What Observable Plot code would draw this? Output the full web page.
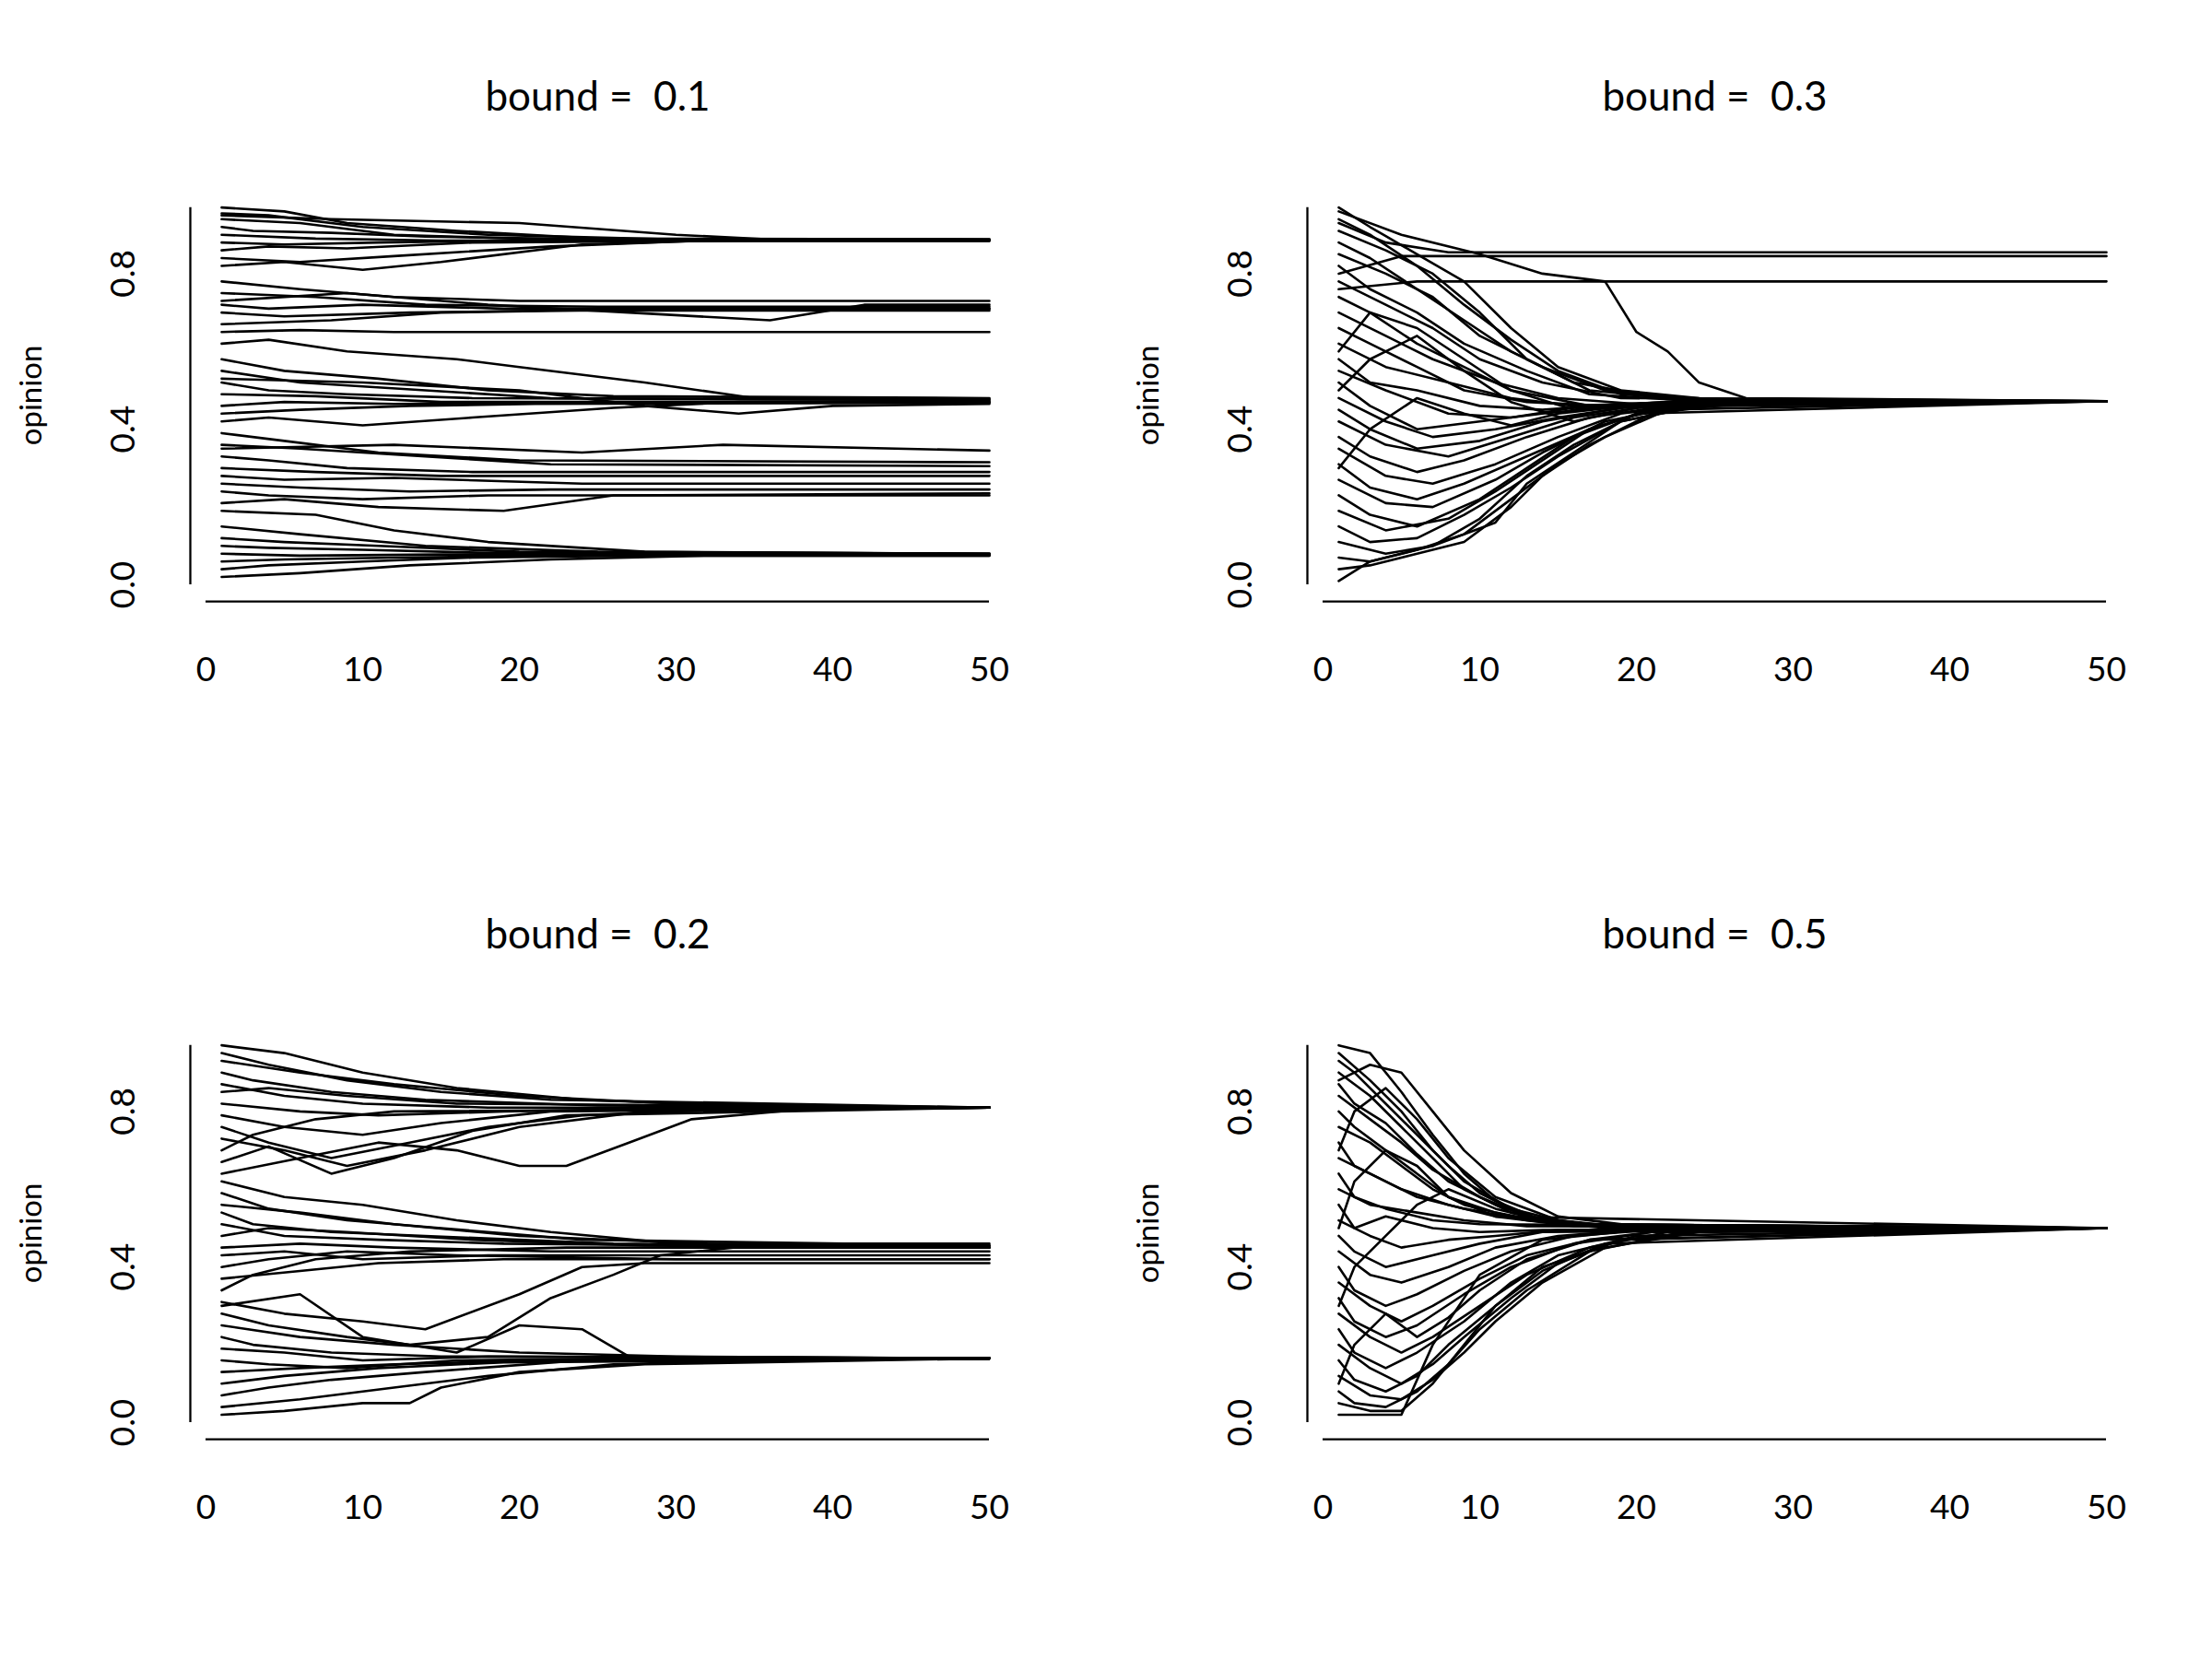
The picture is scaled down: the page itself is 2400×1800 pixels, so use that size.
<!DOCTYPE html>
<html><head><meta charset="utf-8">
<script src="https://cdn.jsdelivr.net/npm/d3@7"></script>
<script src="https://cdn.jsdelivr.net/npm/@observablehq/plot@0.6"></script>
<style>
body{margin:0;background:#fff}
#g{display:grid;grid-template-columns:1212px 1188px;grid-template-rows:909px 891px;width:2400px;height:1800px}
svg text{white-space:pre}
</style></head><body><div id="g"></div>
<script>
const titles = ["bound =  0.1","bound =  0.3","bound =  0.2","bound =  0.5"];
const xTicks = [0,10,20,30,40,50];
const yTicks = [0,0.4,0.8];
// each trajectory: [t, opinion, t, opinion, ...]
const bound01 = [
[1,.97,5,.96,9,.93,16,.91,25,.89,50,.888],[1,.955,4,.95,10,.92,18,.90,30,.888,50,.888],
[1,.94,6,.93,12,.90,20,.89,50,.887],[1,.92,3,.91,8,.905,14,.895,28,.887,50,.887],
[1,.90,7,.89,15,.885,50,.885],[1,.88,5,.875,11,.88,19,.885,50,.885],
[1,.86,4,.87,9,.865,17,.88,35,.885,50,.885],[1,.84,6,.83,12,.845,22,.87,31,.884,50,.884],
[1,.82,5,.83,10,.81,15,.83,24,.875,33,.886,50,.886],[1,.95,8,.94,20,.93,30,.90,36,.888,50,.888],
[1,.78,6,.76,12,.74,20,.73,50,.73],[1,.75,7,.74,14,.72,25,.715,50,.715],
[1,.72,4,.71,10,.72,19,.71,50,.71],[1,.70,5,.69,13,.70,22,.705,50,.705],
[1,.67,8,.68,15,.70,30,.71,50,.71],[1,.65,6,.655,12,.65,50,.65],
[1,.73,9,.75,18,.72,27,.70,36,.68,42,.72,50,.72],
[1,.62,4,.63,9,.60,16,.58,20,.56,28,.52,35,.48,50,.478],[1,.58,5,.55,11,.53,18,.50,26,.485,50,.48],
[1,.55,6,.52,14,.50,22,.48,50,.475],[1,.52,4,.50,9,.49,17,.48,50,.475],
[1,.49,7,.485,15,.47,50,.47],[1,.46,5,.47,12,.465,25,.47,50,.47],
[1,.44,6,.45,13,.46,21,.465,50,.468],[1,.42,4,.43,10,.41,17,.43,26,.455,34,.47,50,.47],
[1,.53,10,.52,20,.50,28,.46,34,.44,40,.46,50,.465],
[1,.39,5,.37,11,.34,20,.32,50,.315],[1,.36,6,.35,14,.33,22,.31,50,.305],
[1,.33,4,.32,9,.30,17,.29,30,.29,50,.29],[1,.30,7,.29,15,.28,50,.28],
[1,.28,5,.27,12,.275,24,.26,50,.26],[1,.26,6,.25,13,.24,22,.245,50,.245],
[1,.24,4,.23,10,.22,18,.23,50,.23],[1,.21,5,.22,11,.20,19,.19,26,.23,50,.235],
[1,.35,12,.36,24,.34,33,.36,50,.345],
[1,.19,7,.18,12,.14,18,.11,28,.085,50,.08],[1,.15,6,.13,14,.10,25,.085,50,.08],
[1,.12,5,.11,11,.10,20,.085,50,.08],[1,.10,4,.095,10,.09,18,.082,50,.078],
[1,.08,6,.075,15,.078,50,.078],[1,.06,5,.065,12,.07,24,.075,50,.075],
[1,.04,4,.05,10,.06,17,.07,30,.076,50,.076],[1,.02,6,.03,13,.05,22,.065,32,.075,50,.075]
];
const bound03 = [
[1,.93,4,.88,8,.855,50,.855],[1,.80,5,.845,9,.845,50,.845],[1,.76,6,.78,12,.78,50,.78],
[1,.96,5,.90,10,.85,14,.80,18,.78,20,.65,22,.60,24,.52,27,.48,50,.472],
[1,.97,3,.92,6,.85,9,.78,12,.66,15,.56,19,.50,24,.48,30,.472,50,.472],
[1,.94,3,.90,6,.82,9,.72,12,.63,15,.55,19,.49,24,.475,50,.472],
[1,.91,4,.86,7,.80,10,.70,13,.58,17,.50,22,.48,50,.472],
[1,.88,3,.84,6,.76,9,.68,12,.60,16,.52,21,.485,28,.472,50,.472],
[1,.85,4,.80,7,.74,10,.64,14,.56,18,.50,24,.476,50,.472],
[1,.82,3,.76,6,.70,9,.62,13,.55,17,.49,23,.474,50,.472],
[1,.78,4,.72,7,.66,10,.58,14,.52,19,.48,50,.472],
[1,.74,3,.70,6,.62,9,.56,12,.50,17,.46,22,.47,50,.472],
[1,.70,4,.64,7,.58,11,.52,15,.48,20,.465,26,.472,50,.472],
[1,.66,3,.62,6,.56,9,.50,13,.47,18,.46,23,.47,50,.472],
[1,.62,4,.56,8,.52,12,.48,16,.46,21,.468,50,.472],
[1,.58,3,.52,6,.50,10,.46,14,.45,19,.465,50,.472],
[1,.55,4,.50,8,.44,12,.43,16,.455,22,.47,50,.472],
[1,.52,3,.46,6,.40,10,.42,14,.44,19,.46,25,.47,50,.472],
[1,.48,4,.42,7,.38,11,.40,15,.43,20,.46,26,.47,50,.472],
[1,.45,3,.40,6,.35,10,.37,14,.42,19,.455,25,.468,50,.472],
[1,.42,4,.36,8,.33,12,.38,16,.43,21,.46,50,.472],
[1,.38,3,.33,6,.29,9,.32,13,.38,17,.43,22,.46,28,.47,50,.472],
[1,.35,4,.28,7,.26,11,.31,15,.38,19,.44,24,.465,50,.472],
[1,.31,3,.25,6,.22,9,.26,13,.33,17,.40,21,.45,27,.47,50,.472],
[1,.27,4,.21,7,.20,11,.27,14,.34,18,.42,23,.46,50,.472],
[1,.23,3,.18,6,.15,10,.22,13,.30,16,.38,20,.44,25,.465,50,.472],
[1,.19,4,.14,8,.17,11,.24,14,.32,17,.40,21,.45,50,.472],
[1,.15,3,.11,6,.12,9,.18,12,.25,15,.33,19,.42,24,.46,50,.472],
[1,.11,4,.08,7,.10,10,.17,13,.28,16,.36,20,.44,50,.472],
[1,.07,3,.06,6,.09,9,.13,12,.22,15,.31,18,.38,22,.45,28,.47,50,.472],
[1,.04,3,.05,6,.08,9,.11,12,.20,14,.28,17,.36,21,.44,26,.465,50,.472],
[1,.01,3,.06,7,.10,11,.16,13,.26,16,.34,19,.42,24,.46,50,.472],
[1,.60,3,.70,6,.66,9,.58,12,.50,16,.45,22,.468,50,.472],
[1,.30,3,.40,6,.48,9,.44,12,.41,15,.44,20,.462,50,.472],
[1,.50,3,.58,6,.64,9,.55,12,.47,16,.42,20,.455,26,.47,50,.472]
];
const bound02 = [
[1,.97,5,.95,10,.90,16,.86,24,.83,34,.815,50,.81],[1,.95,4,.92,9,.88,15,.85,22,.83,50,.81],
[1,.93,6,.90,12,.87,20,.84,30,.82,50,.81],[1,.90,3,.88,8,.85,14,.83,25,.815,50,.81],
[1,.87,5,.84,10,.82,18,.81,50,.81],[1,.85,4,.86,9,.84,16,.82,50,.81],
[1,.82,6,.80,11,.79,19,.80,30,.808,50,.81],[1,.79,5,.76,10,.74,15,.77,22,.80,50,.81],
[1,.76,4,.72,8,.68,13,.72,18,.76,24,.79,33,.805,50,.81],[1,.73,5,.70,9,.66,14,.70,20,.76,28,.80,50,.81],
[1,.70,3,.74,7,.78,12,.80,50,.81],[1,.67,4,.71,8,.64,12,.68,17,.75,23,.79,50,.81],
[1,.64,6,.68,11,.72,16,.70,20,.66,23,.66,27,.72,31,.78,38,.805,50,.81],
[1,.62,5,.58,10,.56,16,.52,22,.49,30,.46,50,.455],[1,.59,4,.55,9,.52,15,.50,24,.47,50,.455],
[1,.56,6,.54,12,.51,20,.48,32,.46,50,.455],[1,.54,3,.51,8,.49,14,.48,26,.46,50,.45],
[1,.51,5,.48,11,.47,19,.46,50,.45],[1,.48,4,.50,9,.49,17,.47,28,.455,50,.45],
[1,.45,6,.46,12,.45,22,.44,50,.44],[1,.43,5,.44,10,.42,18,.43,50,.43],
[1,.40,4,.42,9,.44,16,.43,30,.42,50,.42],[1,.37,6,.39,11,.41,19,.42,50,.42],
[1,.34,3,.38,7,.42,13,.44,23,.45,50,.45],
[1,.31,5,.28,10,.26,14,.24,20,.33,24,.40,28,.41,50,.41],
[1,.28,4,.25,9,.22,13,.20,18,.22,22,.32,26,.38,29,.43,36,.46,50,.46],
[1,.25,6,.22,12,.20,20,.18,30,.17,50,.165],[1,.22,3,.20,8,.18,15,.17,50,.165],
[1,.19,5,.18,10,.16,18,.17,50,.165],[1,.16,4,.15,9,.14,16,.16,28,.165,50,.165],
[1,.13,6,.14,12,.15,22,.16,50,.165],[1,.10,5,.12,11,.14,19,.155,50,.165],
[1,.07,4,.09,8,.11,14,.13,24,.16,50,.165],[1,.04,6,.06,12,.09,18,.12,26,.15,36,.16,50,.165],
[1,.02,5,.03,10,.05,13,.05,15,.09,20,.13,28,.15,50,.165],
[1,.30,6,.33,10,.22,16,.18,20,.25,24,.24,27,.17,50,.165]
];
const bound05 = [
[1,.97,3,.95,5,.85,7,.74,9,.64,11,.57,14,.52,18,.505,25,.50,50,.50],
[1,.95,3,.88,5,.80,7,.70,9,.62,12,.55,16,.51,22,.50,50,.50],
[1,.93,2,.90,4,.82,6,.74,8,.66,10,.59,13,.53,17,.51,50,.50],
[1,.90,3,.84,5,.76,7,.68,9,.60,12,.54,15,.515,20,.50,50,.50],
[1,.87,2,.82,4,.77,6,.69,8,.62,11,.56,14,.52,19,.505,50,.50],
[1,.84,3,.78,5,.72,7,.65,10,.58,13,.53,17,.51,50,.50],
[1,.80,2,.76,4,.70,6,.64,8,.58,11,.54,15,.51,50,.50],
[1,.76,3,.72,5,.66,7,.60,9,.56,12,.53,16,.505,50,.50],
[1,.72,2,.66,4,.62,6,.58,9,.55,13,.52,18,.50,50,.50],
[1,.68,3,.64,5,.60,8,.56,11,.53,15,.51,50,.50],
[1,.64,2,.58,4,.55,7,.52,10,.51,50,.50],
[1,.60,3,.56,6,.54,9,.52,13,.505,50,.50],
[1,.56,2,.50,4,.53,7,.50,10,.49,14,.495,50,.50],
[1,.52,3,.48,5,.45,8,.47,11,.48,15,.495,50,.50],
[1,.48,2,.44,4,.40,7,.43,10,.46,14,.49,50,.50],
[1,.44,3,.38,5,.36,8,.40,11,.45,15,.48,20,.495,50,.50],
[1,.40,2,.34,4,.30,6,.33,9,.39,12,.44,16,.48,21,.495,50,.50],
[1,.36,3,.30,5,.26,7,.30,10,.37,13,.43,17,.47,22,.495,50,.50],
[1,.32,2,.26,4,.22,6,.25,9,.33,12,.40,16,.46,21,.49,50,.50],
[1,.28,3,.22,5,.18,7,.22,10,.30,13,.38,17,.45,22,.49,50,.50],
[1,.24,2,.18,4,.14,6,.18,9,.26,12,.36,15,.43,20,.48,50,.50],
[1,.20,3,.14,5,.10,7,.15,9,.22,12,.32,15,.41,19,.47,25,.495,50,.50],
[1,.16,2,.11,4,.08,6,.12,8,.20,11,.30,14,.39,18,.46,50,.50],
[1,.12,3,.07,5,.06,7,.11,9,.18,11,.26,14,.36,18,.45,24,.49,50,.50],
[1,.08,2,.05,4,.04,6,.08,8,.15,10,.24,13,.34,17,.44,23,.49,50,.50],
[1,.05,3,.03,5,.03,7,.10,9,.20,11,.30,14,.40,19,.47,50,.50],
[1,.02,5,.02,7,.20,10,.38,14,.47,20,.495,50,.50],
[1,.70,2,.80,4,.86,6,.78,8,.68,11,.58,15,.52,20,.50,50,.50],
[1,.30,2,.40,4,.48,6,.56,8,.60,11,.55,15,.51,50,.50],
[1,.88,3,.92,5,.90,7,.80,9,.70,12,.59,15,.53,20,.505,50,.50],
[1,.50,2,.62,4,.70,6,.66,8,.58,11,.53,50,.50],
[1,.10,2,.20,4,.28,6,.22,8,.27,10,.34,13,.42,17,.47,50,.50]
];
const allData = [bound01, bound03, bound02, bound05];
const FONT = "Lato, 'Open Sans', sans-serif";
function panel(data, title, width) {
  const rows = data.flatMap((a, i) => {
    const pts = [];
    for (let j = 0; j < a.length; j += 2) pts.push({id: i, t: a[j], v: a[j + 1]});
    return pts;
  });
  return Plot.plot({
    width, height: 900,
    marginLeft: 223, marginRight: width - 1073, marginTop: 105, marginBottom: 248,
    x: {domain: [0, 50]},
    y: {domain: [0, 1], range: [634, 212], axis: null},
    style: {fontFamily: FONT, fontSize: "37px", color: "#000", background: "#fff", overflow: "visible"},
    marks: [
      Plot.line(rows, {x: "t", y: "v", z: "id", stroke: "#000", strokeWidth: 2.6}),
      Plot.ruleY([-0.043], {x1: 0, x2: 50, stroke: "#000", strokeWidth: 2.3}),
      Plot.ruleX([0], {y1: 0, y2: 0.97, dx: -17, stroke: "#000", strokeWidth: 2.3}),
      Plot.axisX({ticks: xTicks, tickSize: 0, tickPadding: 60, fontSize: 37, label: null}),
      Plot.text(yTicks, {x: () => 0, y: d => d, text: d => d.toFixed(1), rotate: -90, dx: -89, fontSize: 37}),
      Plot.text(["opinion"], {x: () => 0, y: () => 0.487, text: d => d, rotate: -90, dx: -189, fontSize: 33}),
      Plot.text([title], {frameAnchor: "top", lineAnchor: "middle", text: d => d, fontSize: 44})
    ]
  });
}
const g = document.getElementById("g");
allData.forEach((d, i) => g.appendChild(panel(d, titles[i], i % 2 === 0 ? 1212 : 1188)));
</script></body></html>
